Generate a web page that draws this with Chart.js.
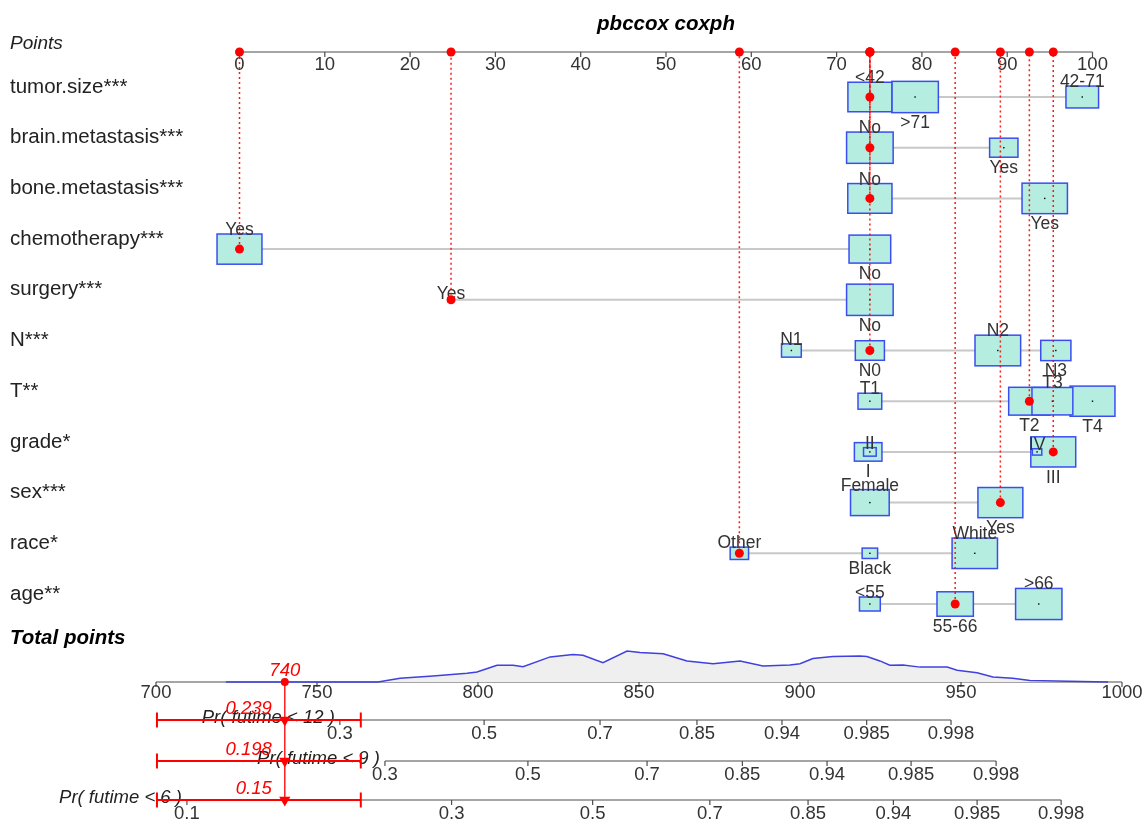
<!DOCTYPE html>
<html>
<head>
<meta charset="utf-8">
<script src="https://cdn.jsdelivr.net/npm/chart.js@4.4.1/dist/chart.umd.min.js"></script>
<style>
  html, body { margin: 0; padding: 0; background: #fff; }
  canvas { display: block; }
</style>
</head>
<body>
<canvas id="nomogram" width="1144" height="825"></canvas>
<script>
// axis ticks
const pointTicks = [0, 10, 20, 30, 40, 50, 60, 70, 80, 90, 100];
const totalTicks = [700, 750, 800, 850, 900, 950, 1000];

// predictors, their levels (in plotting order), points per level and share of patients
const varLabels = ['tumor.size***', 'brain.metastasis***', 'bone.metastasis***', 'chemotherapy***', 'surgery***',
                   'N***', 'T**', 'grade*', 'sex***', 'race*', 'age**'];
const levelLabels = [
    ['<42', '>71', '42-71'],
    ['No', 'Yes'],
    ['No', 'Yes'],
    ['Yes', 'No'],
    ['Yes', 'No'],
    ['N1', 'N0', 'N2', 'N3'],
    ['T1', 'T2', 'T3', 'T4'],
    ['II', 'I', 'IV', 'III'],
    ['Female', 'Yes'],
    ['Other', 'Black', 'White'],
    ['<55', '55-66', '>66']
];
const levelPoints = [
    [73.9, 79.2, 98.8],
    [73.9, 89.6],
    [73.9, 94.4],
    [0, 73.9],
    [24.8, 73.9],
    [64.7, 73.9, 88.9, 95.7],
    [73.9, 92.6, 95.3, 100],
    [73.9, 73.7, 93.5, 95.4],
    [73.9, 89.2],
    [58.6, 73.9, 86.2],
    [73.9, 83.9, 93.7]
];
const levelShare = [
    [0.89, 1.0, 0.49],
    [1.0, 0.37],
    [0.90, 0.95],
    [0.93, 0.80],
    [0.017, 1.0],
    [0.18, 0.39, 0.96, 0.42],
    [0.26, 0.79, 0.77, 0.93],
    [0.074, 0.35, 0.041, 0.93],
    [0.69, 0.93],
    [0.156, 0.11, 0.95],
    [0.20, 0.61, 0.99]
];
// the patient being scored
const chosenLevels = ['<42', 'No', 'No', 'Yes', 'Yes', 'N0', 'T2', 'III', 'Yes', 'Other', '55-66'];
const totalScore = 740;

// probability axes (tick positions in total points)
const probTitles = ['Pr( futime < 12 )', 'Pr( futime < 9 )', 'Pr( futime < 6 )'];
const probTickLabels = [
    ['0.3', '0.5', '0.7', '0.85', '0.94', '0.985', '0.998'],
    ['0.3', '0.5', '0.7', '0.85', '0.94', '0.985', '0.998'],
    ['0.1', '0.3', '0.5', '0.7', '0.85', '0.94', '0.985', '0.998']
];
const probTickAt = [
    [757.1, 801.9, 837.9, 868.0, 894.4, 920.7, 946.9],
    [771.1, 815.5, 852.5, 882.1, 908.4, 934.5, 960.9],
    [709.6, 791.8, 835.6, 872.0, 902.5, 929.0, 955.0, 981.1]
];
const probValues = ['0.239', '0.198', '0.15'];
const probLow = [700.3, 700.3, 700.3];
const probHigh = [763.6, 763.6, 763.6];

// distribution of total points
const densityAt = [721.7, 768.9, 775.8, 786.0, 796.6, 799.7, 805.9, 810.9, 814.0, 822.4, 829.5, 832.6, 838.8,
                   846.3, 850.3, 857.5, 864.9, 873.0, 881.4, 888.5, 896.9, 900.0, 904.0, 910.2, 918.6, 920.8,
                   924.8, 927.9, 932.0, 937.3, 945.7, 948.8, 955.0, 959.9, 966.1, 971.4, 995.7];
const densityVal = [0, 0, 0.12, 0.19, 0.28, 0.32, 0.54, 0.54, 0.49, 0.81, 0.89, 0.86, 0.62,
                    1.0, 0.95, 0.91, 0.68, 0.59, 0.68, 0.52, 0.55, 0.59, 0.76, 0.82, 0.84, 0.82,
                    0.68, 0.54, 0.55, 0.48, 0.48, 0.38, 0.30, 0.16, 0.12, 0.05, 0];

const W = 1144, H = 825;
const FONT = '"Liberation Sans", Arial, sans-serif';
const RED = '#ff0000';

// map two value/pixel anchors onto a scale spanning the whole canvas
function fitScale(v0, p0, v1, p1, size) {
    const k = (v1 - v0) / (p1 - p0);
    const a = v0 - p0 * k, b = v0 + (size - p0) * k;
    return { min: Math.min(a, b), max: Math.max(a, b) };
}
const rowOf = px => 1 + (px - 97) * 10 / 507;

const ptsFit = fitScale(0, 239.5, 100, 1092.5, W);
const totFit = fitScale(700, 156, 1000, 1122, W);
const rowFit = fitScale(1, 97, 11, 604, H);
const densFit = fitScale(0, 682, 1, 651, H);

const ROW_POINTS = rowOf(52);
const ROW_TOTAL = rowOf(682);
const ROW_PROB = [rowOf(720), rowOf(761), rowOf(800)];
const BOX_W = 5.46;   // box width (points) of a share-1 level
const BOX_H = 0.617;  // box height (rows) of a share-1 level

const chosenPts = varLabels.map((v, i) => levelPoints[i][levelLabels[i].indexOf(chosenLevels[i])]);

function drawAxis(ctx, scale, py, at, labels, gap) {
    const x0 = scale.getPixelForValue(at[0]);
    const x1 = scale.getPixelForValue(at[at.length - 1]);
    ctx.strokeStyle = '#4d4d4d';
    ctx.lineWidth = 1.2;
    ctx.beginPath();
    ctx.moveTo(x0, py);
    ctx.lineTo(x1, py);
    ctx.stroke();
    ctx.font = '18.5px ' + FONT;
    ctx.fillStyle = '#333';
    ctx.textAlign = 'center';
    ctx.textBaseline = 'middle';
    at.forEach(function (v, i) {
        const px = scale.getPixelForValue(v);
        ctx.beginPath();
        ctx.moveTo(px, py);
        ctx.lineTo(px, py + 5);
        ctx.stroke();
        ctx.fillText(labels[i], px, py + gap);
    });
}

const nomoPlugin = {
    id: 'nomo',
    beforeDatasetsDraw(chart) {
        const ctx = chart.ctx;
        const x = chart.scales.x, xt = chart.scales.xt, y = chart.scales.y;
        ctx.save();

        drawAxis(ctx, x, y.getPixelForValue(ROW_POINTS), pointTicks, pointTicks.map(String), 13);
        drawAxis(ctx, xt, y.getPixelForValue(ROW_TOTAL), totalTicks, totalTicks.map(String), 11);
        probTitles.forEach(function (t, k) {
            const py = y.getPixelForValue(ROW_PROB[k]);
            drawAxis(ctx, xt, py, probTickAt[k], probTickLabels[k], 14);
            ctx.font = 'italic 18.5px ' + FONT;
            ctx.fillStyle = '#222';
            ctx.textAlign = 'right';
            ctx.textBaseline = 'middle';
            ctx.fillText(t, xt.getPixelForValue(probTickAt[k][0]) - 5, py - 2);
        });

        varLabels.forEach(function (name, i) {
            const cy = y.getPixelForValue(i + 1);
            const pts = levelPoints[i];
            // connector behind the boxes
            ctx.strokeStyle = '#c8c8c8';
            ctx.lineWidth = 2;
            ctx.beginPath();
            ctx.moveTo(x.getPixelForValue(Math.min.apply(null, pts)), cy);
            ctx.lineTo(x.getPixelForValue(Math.max.apply(null, pts)), cy);
            ctx.stroke();

            const boxes = pts.map(function (p, j) {
                const s = Math.sqrt(levelShare[i][j]);
                const l = x.getPixelForValue(p - BOX_W * s / 2), r = x.getPixelForValue(p + BOX_W * s / 2);
                const t = y.getPixelForValue(i + 1 - BOX_H * s / 2), b = y.getPixelForValue(i + 1 + BOX_H * s / 2);
                return { j: j, cx: x.getPixelForValue(p), l: l, r: r, t: t, b: b, s: s };
            });
            // biggest boxes first so small ones stay visible
            boxes.slice().sort((a, b) => b.s - a.s).forEach(function (bx) {
                ctx.fillStyle = '#b5eee0';
                ctx.fillRect(bx.l, bx.t, bx.r - bx.l, bx.b - bx.t);
                ctx.strokeStyle = 'rgb(58,78,240)';
                ctx.lineWidth = 1.5;
                ctx.strokeRect(bx.l, bx.t, bx.r - bx.l, bx.b - bx.t);
                ctx.fillStyle = '#000';
                ctx.fillRect(bx.cx - 0.7, cy - 0.7, 1.4, 1.4);
            });
            ctx.font = '17.5px ' + FONT;
            ctx.fillStyle = '#333';
            ctx.textAlign = 'center';
            boxes.forEach(function (bx) {
                if (bx.j % 2 === 0) {
                    ctx.textBaseline = 'alphabetic';
                    ctx.fillText(levelLabels[i][bx.j], bx.cx, bx.t + 1);
                } else {
                    ctx.textBaseline = 'top';
                    ctx.fillText(levelLabels[i][bx.j], bx.cx, bx.b + 2);
                }
            });
        });
        ctx.restore();
    },
    afterDatasetsDraw(chart) {
        const ctx = chart.ctx;
        const x = chart.scales.x, xt = chart.scales.xt, y = chart.scales.y;
        ctx.save();
        ctx.textBaseline = 'middle';

        ctx.font = 'bold italic 20.5px ' + FONT;
        ctx.fillStyle = '#000';
        ctx.textAlign = 'center';
        ctx.fillText('pbccox coxph', (x.getPixelForValue(0) + x.getPixelForValue(100)) / 2, 24);

        ctx.textAlign = 'left';
        ctx.fillStyle = '#222';
        ctx.font = 'italic 19px ' + FONT;
        ctx.fillText('Points', 10, y.getPixelForValue(ROW_POINTS) - 8);
        ctx.font = '20.5px ' + FONT;
        varLabels.forEach(function (name, i) {
            ctx.fillText(name, 10, y.getPixelForValue(i + 1) - 10);
        });
        ctx.fillStyle = '#000';
        ctx.font = 'bold italic 20.5px ' + FONT;
        ctx.fillText('Total points', 10, 638);

        // scored values
        const sx = xt.getPixelForValue(totalScore);
        ctx.fillStyle = RED;
        ctx.font = 'italic 18.5px ' + FONT;
        ctx.textAlign = 'center';
        ctx.fillText(String(totalScore), sx, y.getPixelForValue(ROW_TOTAL) - 11);
        ctx.textAlign = 'right';
        probValues.forEach(function (v, k) {
            ctx.fillText(v, sx - 13, y.getPixelForValue(ROW_PROB[k]) - 11);
        });
        ctx.restore();
    }
};

const guideSets = chosenPts.map(function (p, i) {
    return {
        type: 'line',
        data: [{ x: p, y: i + 1 }, { x: p, y: ROW_POINTS }],
        xAxisID: 'x', yAxisID: 'y',
        borderColor: 'rgba(255,0,0,0.9)', borderWidth: 1.5, borderDash: [2, 3],
        pointRadius: 0, order: 4
    };
});

const ciSets = probLow.map(function (lo, k) {
    return {
        type: 'line',
        data: [{ x: lo, y: ROW_PROB[k] }, { x: probHigh[k], y: ROW_PROB[k] }],
        xAxisID: 'xt', yAxisID: 'y',
        borderColor: RED, borderWidth: 2,
        pointStyle: 'line', pointRotation: 90, pointRadius: 7.5,
        pointBorderColor: RED, pointBorderWidth: 2, order: 3
    };
});

new Chart(document.getElementById('nomogram'), {
    type: 'scatter',
    data: {
        datasets: [
            {
                type: 'line',
                data: densityAt.map((v, i) => ({ x: v, y: densityVal[i] })),
                xAxisID: 'xt', yAxisID: 'yd',
                borderColor: 'rgb(64,64,222)', borderWidth: 1.5,
                backgroundColor: '#efefef', fill: { value: 0 },
                pointRadius: 0, order: 6
            },
            ...guideSets,
            ...ciSets,
            {
                type: 'line',
                data: [{ x: totalScore, y: ROW_TOTAL }, { x: totalScore, y: ROW_PROB[2] }],
                xAxisID: 'xt', yAxisID: 'y',
                borderColor: RED, borderWidth: 1.3, pointRadius: 0, order: 3
            },
            {
                data: chosenPts.map((p, i) => ({ x: p, y: i + 1 })),
                xAxisID: 'x', yAxisID: 'y',
                backgroundColor: RED, borderWidth: 0, pointRadius: 4.5, order: 1
            },
            {
                data: chosenPts.map(p => ({ x: p, y: ROW_POINTS })),
                xAxisID: 'x', yAxisID: 'y',
                backgroundColor: RED, borderWidth: 0, pointRadius: 4.5, order: 1
            },
            {
                data: [{ x: totalScore, y: ROW_TOTAL }],
                xAxisID: 'xt', yAxisID: 'y',
                backgroundColor: RED, borderWidth: 0, pointRadius: 4, order: 1
            },
            {
                data: ROW_PROB.map(r => ({ x: totalScore, y: r })),
                xAxisID: 'xt', yAxisID: 'y',
                pointStyle: 'triangle', rotation: 180,
                backgroundColor: RED, borderWidth: 0, pointRadius: 6.5, order: 1
            }
        ]
    },
    options: {
        responsive: false,
        animation: false,
        events: [],
        layout: { padding: 0, autoPadding: false },
        plugins: { legend: { display: false }, tooltip: { enabled: false } },
        scales: {
            x: { type: 'linear', min: ptsFit.min, max: ptsFit.max, display: false },
            xt: { type: 'linear', axis: 'x', min: totFit.min, max: totFit.max, display: false },
            y: { type: 'linear', reverse: true, min: rowFit.min, max: rowFit.max, display: false },
            yd: { type: 'linear', axis: 'y', min: densFit.min, max: densFit.max, display: false }
        }
    },
    plugins: [nomoPlugin]
});
</script>
</body>
</html>
